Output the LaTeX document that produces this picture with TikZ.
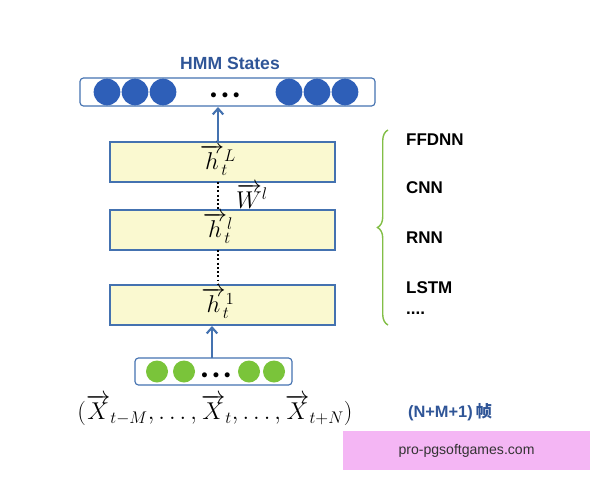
\documentclass[tikz,border=0pt]{standalone}
\usepackage{amsmath, amssymb}
\usepackage{fontspec}
\newfontfamily\sansf{Liberation Sans}
\newfontfamily\cjk{Noto Sans CJK SC}
\usetikzlibrary {arrows.meta}
\usetikzlibrary {decorations.pathreplacing}
\definecolor{hmmblue}{RGB}{47,85,151}
\definecolor{edgeblue}{RGB}{68,114,176}
\definecolor{dotblue}{RGB}{46,95,184}
\definecolor{layerfill}{RGB}{250,249,208}
\definecolor{dotgreen}{RGB}{122,196,58}
\definecolor{bracegreen}{RGB}{130,190,70}
\definecolor{wmpink}{RGB}{244,182,244}

\begin{document}
\begin{tikzpicture}[>=Stealth, x=0.03cm, y=-0.03cm,
    layer/.style={draw=edgeblue, line width=1.6pt, fill=layerfill, minimum width=6.75cm, minimum height=1.2cm},
    strip/.style={draw=edgeblue, line width=1pt, rounded corners=3pt},
    unit/.style={circle, inner sep=0pt, minimum size=0.8cm},
    updart/.style={-{Straight Barb[length=5pt, width=9pt]}, edgeblue, line width=1.8pt},
    side/.style={font=\sansf\bfseries\fontsize{14.5}{16}\selectfont, anchor=west},
    dots/.style={font=\fontsize{11}{11}\selectfont, inner sep=0pt},
    hlab/.style={font=\fontsize{20}{22}\selectfont}]
    \useasboundingbox (0,0) rectangle (600,480);

    % output states
    \node[font=\sansf\bfseries\fontsize{15}{17}\selectfont, text=hmmblue] (title) at (230,63) {HMM States};
    \node[strip, minimum width=8.85cm, minimum height=0.84cm] (out) at (227.5,92) {};
    \foreach \cx in {107,135,163,289,317,345}
        \node[unit, fill=dotblue] at (\cx,92) {};
    \node[dots] at (225,96) {$\bullet\,\bullet\,\bullet$};

    % hidden layers
    \node[layer] (hL) at (222.5,162) {};
    \node[layer] (hl) at (222.5,230) {};
    \node[layer] (h1) at (222.5,305) {};
    \node[hlab] at (218,160) {$\overrightarrow{h}_{\!t}^{L}$};
    \node[hlab] at (218,228) {$\overrightarrow{h}_{\!t}^{l}$};
    \node[hlab] at (218,303) {$\overrightarrow{h}_{\!t}^{1}$};
    \node[hlab] (w) at (252,196) {$\overrightarrow{W}^{l}$};
    \draw[dotted, line width=1.6pt] (218,182) -- (218,210);
    \draw[dotted, line width=1.6pt] (218,250) -- (218,285);

    % input frames
    \node[strip, minimum width=4.71cm, minimum height=0.81cm] (in) at (213.5,371.5) {};
    \foreach \cx in {157,184,249,274}
        \node[unit, fill=dotgreen, minimum size=0.66cm] at (\cx,371.5) {};
    \node[dots] at (216,376) {$\bullet\,\bullet\,\bullet$};
    \node[hlab] (x) at (215,410) {$(\overrightarrow{X}_{t-M},\ldots,\overrightarrow{X}_{t},\ldots,\overrightarrow{X}_{t+N})$};
    \node[font=\sansf\bfseries\fontsize{14}{16}\selectfont, text=hmmblue] (frames) at (450,412) {(N+M+1)\,{\cjk 帧}};

    \coordinate (outin) at (218,107);
    \coordinate (hLout) at (218,143);
    \coordinate (h1in) at (212,326);
    \coordinate (inout) at (212,358);
    \draw[updart] (hLout) -- (outin);
    \draw[updart] (inout) -- (h1in);

    % model types
    \draw[bracegreen, line width=1.2pt, decorate, decoration={brace, amplitude=9pt}]
        (388,325) -- (388,130);
    \node[side] (ff) at (402,140) {FFDNN};
    \node[side] (cnn) at (402,188) {CNN};
    \node[side] (rnn) at (402,238) {RNN};
    \node[side] (lstm) at (402,288) {LSTM};
    \node[side] (more) at (402,313) {....};

    \node[fill=wmpink, minimum width=7.41cm, minimum height=1.17cm, font=\sansf\fontsize{12}{14}\selectfont, text=black!80] (wm) at (466.5,450.5) {pro-pgsoftgames.com};
\end{tikzpicture}
\end{document}
